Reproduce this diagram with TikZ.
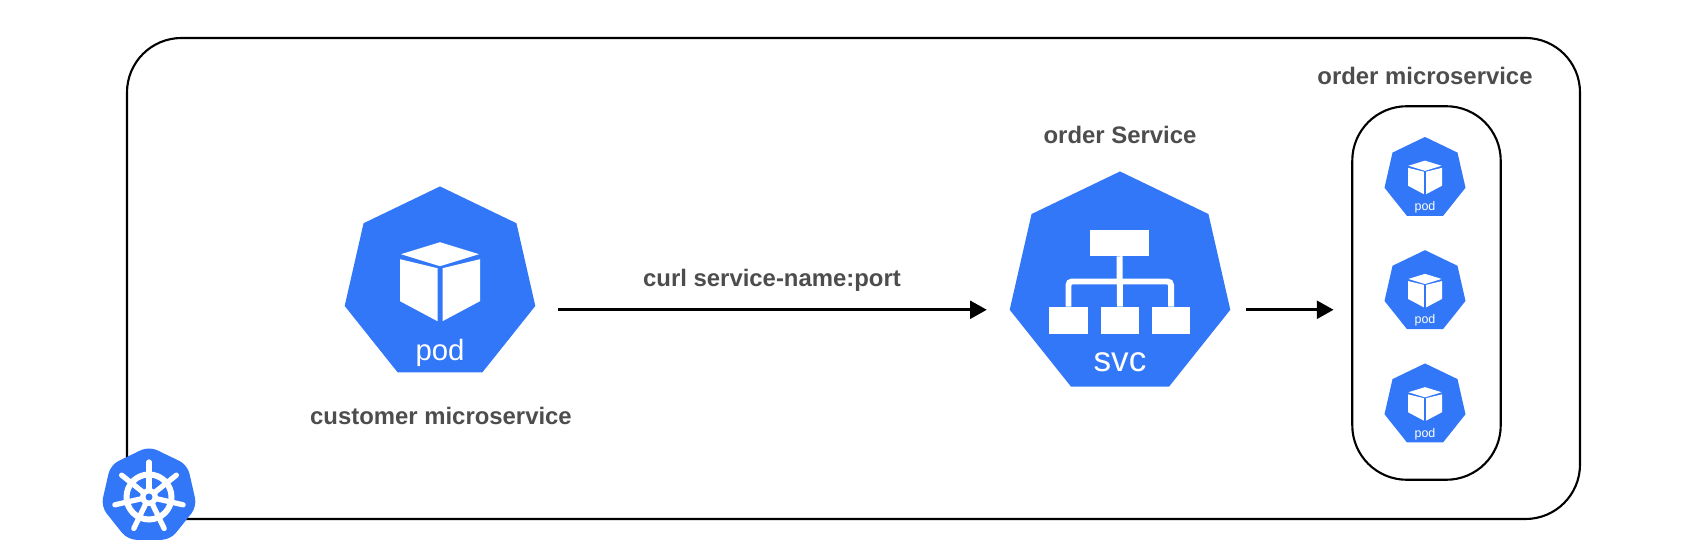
\documentclass[tikz,border=0pt]{standalone}
\usepackage{fontspec}
\setmainfont{Liberation Sans}
\usetikzlibrary{arrows.meta,shapes.geometric}
\definecolor{kubeblue}{HTML}{3277F8}
\definecolor{labelgray}{HTML}{4D4D4D}
\tikzset{
  hexa/.style={regular polygon,regular polygon sides=7,fill=kubeblue,inner sep=0pt,outer sep=0pt},
  podhexa/.style={hexa,minimum size=111.3pt},
  svchexa/.style={hexa,minimum size=128.8pt},
  logohexa/.style={hexa,minimum size=56pt,rounded corners=5pt},
  cubeface/.style={fill=white,draw=none},
  title/.style={font=\bfseries\fontsize{13.6pt}{16pt}\selectfont,text=labelgray,inner sep=0pt},
  icontext/.style={text=white,inner sep=0pt,anchor=base},
  frameline/.style={draw=black,line width=1.2pt,rounded corners=31pt},
  flow/.style={line width=1.9pt,-{Triangle[length=9.5pt,width=10pt]}},
  svcbox/.style={fill=white,draw=none},
  svcline/.style={draw=white,line width=3.4pt,rounded corners=2pt},
  pics/podicon/.style={code={
    \node[podhexa,transform shape] (-hex) at (0,0) {};
    % the cube
    \fill[cubeface] (0,-42) -- (39,-30) -- (0,-18) -- (-39,-30) -- cycle;
    \fill[cubeface] (-40,-25) -- (-2.5,-16) -- (-2.5,37) -- (-40,17) -- cycle;
    \fill[cubeface] (40,-25) -- (2.5,-16) -- (2.5,37) -- (40,17) -- cycle;
    \node[icontext,transform shape,font=\fontsize{16.7pt}{18pt}\selectfont] (-label) at (0,76) {pod};
  }}
}
\begin{document}
\begin{tikzpicture}[x=.02cm,y=-.02cm]
\useasboundingbox (0,0) rectangle (1694,553);

% the outer frame and the box round the three pods
\draw[frameline] (127,38) rectangle (1580,519);
\node[frameline,fill=none,minimum width=84.5pt,minimum height=212.6pt,inner sep=0pt] (orderbox) at (1426.5,293) {};

% the big pod
\pic (customerpod) at (440,284.2) {podicon};
\node[title] (customerlabel) at (441,416) {customer microservice};

% the service
\node[svchexa] (svcicon) at (1120,284.6) {};
\node[svcbox,minimum width=33.5pt,minimum height=14.7pt,inner sep=0pt] (svctop) at (1119.5,243) {};
\node[svcbox,minimum width=22pt,minimum height=15.3pt,inner sep=0pt] (svcleft) at (1068.5,320.5) {};
\node[svcbox,minimum width=22pt,minimum height=15.3pt,inner sep=0pt] (svcmid) at (1120,320.5) {};
\node[svcbox,minimum width=22pt,minimum height=15.3pt,inner sep=0pt] (svcright) at (1171,320.5) {};
\draw[svcline] (svctop.south) -- (svcmid.north);
\draw[svcline] (svcleft.north) |- (1120,281.5) -| (svcright.north);
\node[icontext,font=\fontsize{20pt}{22pt}\selectfont] (svctext) at (1120,372) {svc};
\node[title] (svclabel) at (1120,135) {order Service};

% the three small pods
\foreach \i/\ypos in {1/178.5,2/291.7,3/405}
  \pic[scale=.425] (orderpod\i) at (1425,\ypos) {podicon};
\node[title] (orderlabel) at (1425,76) {order microservice};

% the arrows
\draw[flow,shorten <=13pt,shorten >=13pt] (customerpod-hex.corner 6 |- svcicon.corner 3) -- (svcicon.corner 3);
\draw[flow,shorten <=9pt,shorten >=10pt] (svcicon.corner 6) -- (svcicon.corner 6 -| orderbox.west);
\node[title] (curllabel) at (772,280) {curl service-name:port};

% the wheel in the corner
\node[logohexa] (logo) at (149,495.5) {};
\coordinate (hub) at (149,497);
\draw[white,line width=3.4pt] (hub) circle (22.5);
\foreach \a in {90,141.4,192.9,244.3,295.7,347.1,38.6}
  \draw[white,line width=3pt,line cap=round] (hub) -- ++({cos(\a)*35},{-sin(\a)*35});
\fill[white] (hub) circle (9);
\fill[kubeblue] (hub) circle (3.5);
\end{tikzpicture}
\end{document}
